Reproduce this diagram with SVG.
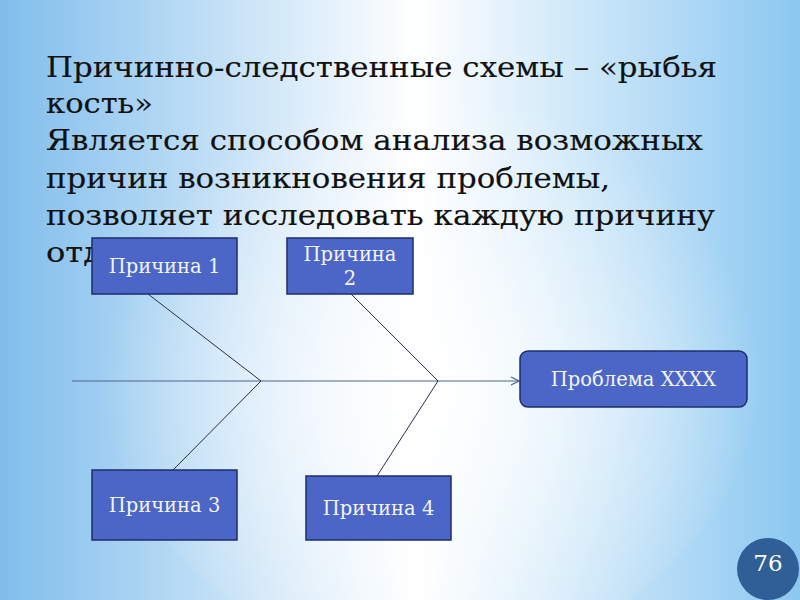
<svg xmlns="http://www.w3.org/2000/svg" width="800" height="600" viewBox="0 0 800 600">
<defs>
<linearGradient id="bg" x1="0" y1="0" x2="1" y2="0">
<stop offset="0" stop-color="#80bdec"/>
<stop offset="0.52" stop-color="#ffffff"/>
<stop offset="1" stop-color="#8cc8f1"/>
</linearGradient>
<radialGradient id="glow" cx="0.5" cy="0.55" r="0.5">
<stop offset="0" stop-color="#ffffff" stop-opacity="0.9"/>
<stop offset="1" stop-color="#ffffff" stop-opacity="0"/>
</radialGradient>
<marker id="arr" viewBox="0 0 10 10" refX="9" refY="5" markerWidth="10" markerHeight="10" markerUnits="userSpaceOnUse" orient="auto">
<path d="M1,1 L9,5 L1,9" fill="none" stroke="#4e6490" stroke-width="1.2"/>
</marker>
<style>
.title{font-family:"DejaVu Serif","Liberation Serif",serif;font-size:28px;fill:#111;stroke:#111;stroke-width:0.15}
.box{fill:#4b66c6;stroke:#1e2d6e;stroke-width:1.5}
.lbl{font-family:"DejaVu Serif",serif;font-size:19.5px;fill:#f4f4f4;text-anchor:middle}
.bone{stroke:#2a2f45;stroke-width:1;fill:none}
</style>
</defs>
<rect width="800" height="600" fill="url(#bg)"/>
<ellipse cx="430" cy="360" rx="330" ry="300" fill="url(#glow)"/>
<g id="title">
<text class="title" x="46" y="77" textLength="671" lengthAdjust="spacingAndGlyphs">Причинно-следственные схемы – «рыбья</text>
<text class="title" x="46" y="113" textLength="107" lengthAdjust="spacingAndGlyphs">кость»</text>
<text class="title" x="46" y="150" textLength="657" lengthAdjust="spacingAndGlyphs">Является способом анализа возможных</text>
<text class="title" x="46" y="188" textLength="564" lengthAdjust="spacingAndGlyphs">причин возникновения проблемы,</text>
<text class="title" x="46" y="225" textLength="669" lengthAdjust="spacingAndGlyphs">позволяет исследовать каждую причину</text>
<text class="title" x="46" y="262" textLength="57" lengthAdjust="spacingAndGlyphs">отд</text>
</g>
<g id="connectors">
<line x1="72" y1="381" x2="519" y2="381" stroke="#4e6490" stroke-width="1.2" marker-end="url(#arr)"/>
<line class="bone" x1="148" y1="294" x2="261" y2="381"/>
<line class="bone" x1="351" y1="294" x2="438" y2="381"/>
<line class="bone" x1="261" y1="381" x2="173" y2="470"/>
<line class="bone" x1="438" y1="381" x2="377" y2="476"/>
</g>
<g id="cause1">
<rect class="box" x="92" y="238" width="145" height="56"/>
<text class="lbl" x="164.5" y="273">Причина 1</text>
</g>
<g id="cause2">
<rect class="box" x="287" y="238" width="126" height="56"/>
<text class="lbl" x="350" y="261">Причина</text>
<text class="lbl" x="350" y="285">2</text>
</g>
<g id="problem">
<rect class="box" x="520" y="351" width="227" height="56" rx="8"/>
<text class="lbl" x="633.5" y="386">Проблема XXXX</text>
</g>
<g id="cause3">
<rect class="box" x="92" y="470" width="145" height="70"/>
<text class="lbl" x="164.5" y="512">Причина 3</text>
</g>
<g id="cause4">
<rect class="box" x="306" y="476" width="145" height="64"/>
<text class="lbl" x="378.5" y="515">Причина 4</text>
</g>
<g id="pagenum">
<circle cx="768" cy="569" r="31" fill="#2f5f96"/>
<text x="768" y="571" font-family="DejaVu Serif,serif" font-size="23" fill="#ffffff" text-anchor="middle">76</text>
</g>
</svg>
